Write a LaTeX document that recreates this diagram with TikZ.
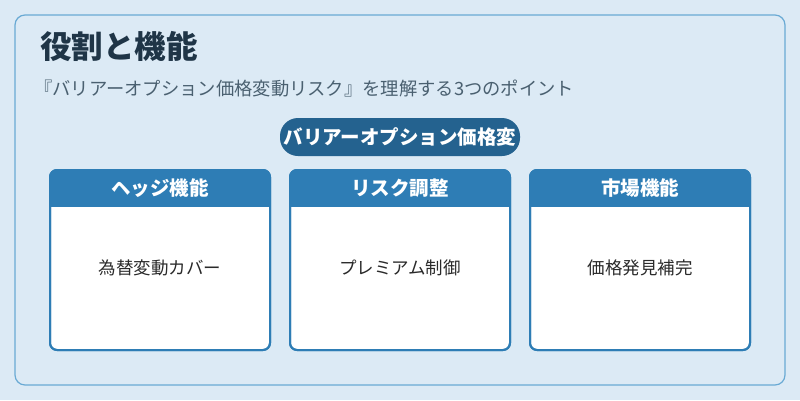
\documentclass[tikz,border=0pt]{standalone}
\usepackage{fontspec}
\setmainfont{Noto Sans CJK JP}
\definecolor{bgc}{HTML}{DCEAF5}
\definecolor{bord}{HTML}{6AAAD4}
\definecolor{titc}{HTML}{1F3547}
\definecolor{subc}{HTML}{4A6070}
\definecolor{pillc}{HTML}{24628F}
\definecolor{headc}{HTML}{2E7DB5}
\definecolor{txtc}{HTML}{2A2A2A}
\begin{document}
\begin{tikzpicture}[x=1pt,y=-1pt,
  card/.style={draw=headc,line width=2pt,fill=white,rounded corners=7pt},
  headtxt/.style={text=white,font=\fontsize{19.5}{22}\selectfont\bfseries},
  bodytxt/.style={text=txtc,font=\fontsize{17.5}{20}\selectfont}]
\fill[bgc] (0,0) rectangle (800,400);
\useasboundingbox (0,0) rectangle (800,400);
\draw[bord,fill=bgc,line width=1.2pt,rounded corners=10pt] (15,15) rectangle (785,385);
\node[anchor=west,text=titc,font=\fontsize{31.5}{36}\selectfont\bfseries,inner sep=0pt] (title) at (40,46) {役割と機能};
\node[anchor=west,text=subc,font=\fontsize{18.3}{21}\selectfont,inner sep=0pt] (sub) at (34,89) {『バリアーオプション価格変動リスク』を理解する3つのポイント};
\fill[pillc,rounded corners=18pt] (280,118) rectangle (520,156);
\node[text=white,font=\fontsize{19.5}{22}\selectfont\bfseries] (pill) at (400,137) {バリアーオプション価格変};
\foreach \x/\h/\b/\n in {50/ヘッジ機能/為替変動カバー/a,290/リスク調整/プレミアム制御/b,530/市場機能/価格発見補完/c}{
  \draw[card] (\x,170) rectangle (\x+220,350);
  \begin{scope}
    \clip[rounded corners=7pt] (\x,170) rectangle (\x+220,350);
    \fill[headc] (\x,170) rectangle (\x+220,207);
  \end{scope}
  \draw[headc,line width=2pt,rounded corners=7pt] (\x,170) rectangle (\x+220,350);
  \node[headtxt] (h\n) at (\x+110,188.5) {\h};
  \node[bodytxt] (b\n) at (\x+110,268) {\b};
}
\end{tikzpicture}
\end{document}
